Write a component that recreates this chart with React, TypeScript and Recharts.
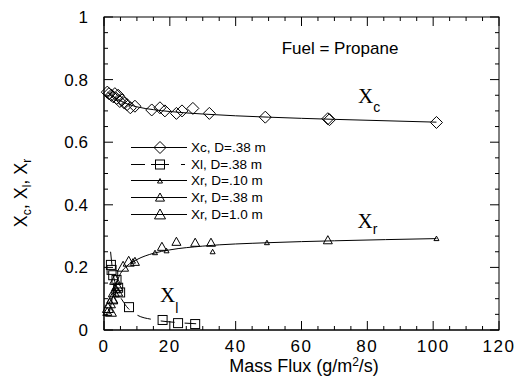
import { ComposedChart, Scatter, Line, XAxis, YAxis } from "recharts";

// Axis ticks (minor every 5 / 0.05, labelled majors)
const X_TICKS = [0, 5, 10, 15, 20, 25, 30, 35, 40, 45, 50, 55, 60, 65, 70, 75, 80, 85, 90, 95, 100, 105, 110, 115, 120];
const X_LABELS = [0, 20, 40, 60, 80, 100, 120];
const Y_TICKS = [0, 0.05, 0.1, 0.15, 0.2, 0.25, 0.3, 0.35, 0.4, 0.45, 0.5, 0.55, 0.6, 0.65, 0.7, 0.75, 0.8, 0.85, 0.9, 0.95, 1];
const Y_LABELS = [0, 0.2, 0.4, 0.6, 0.8, 1];
const X_DOMAIN = [0, 120];
const Y_DOMAIN = [0, 1];

// Xc, D=.38 m
const XC_X = [1.0, 1.5, 2.2, 2.8, 3.3, 3.8, 4.3, 4.8, 5.5, 6.2, 7.0, 8.0, 9.4, 14.5, 17, 18.5, 22, 23.7, 27, 32, 49, 68, 68.5, 101];
const XC_Y = [0.76, 0.755, 0.75, 0.745, 0.755, 0.74, 0.75, 0.73, 0.735, 0.725, 0.72, 0.71, 0.715, 0.703, 0.71, 0.7, 0.692, 0.7, 0.708, 0.692, 0.68, 0.675, 0.672, 0.663];
const XC_FIT_X = [1, 3, 6, 10, 15, 20, 30, 50, 70, 101];
const XC_FIT_Y = [0.76, 0.745, 0.727, 0.713, 0.704, 0.698, 0.69, 0.68, 0.673, 0.664];

// Xl, D=.38 m
const XL_X = [2.1, 2.3, 2.8, 3.8, 4.3, 4.9, 7.6, 17.8, 22.5, 27.7];
const XL_Y = [0.208, 0.192, 0.175, 0.16, 0.135, 0.12, 0.073, 0.032, 0.022, 0.019];
const XL_FIT_X = [2, 2.5, 4, 6, 10, 15, 22, 28];
const XL_FIT_Y = [0.25, 0.2, 0.13, 0.088, 0.048, 0.033, 0.024, 0.02];

// Xr series
const XR10_X = [8.8, 15.5, 19, 33, 49.5, 101];
const XR10_Y = [0.22, 0.247, 0.253, 0.25, 0.279, 0.292];
const XR38_X = [1.0, 2.8, 3.6, 4.3, 9.4, 17.6, 22, 27.7, 32.5, 68];
const XR38_Y = [0.058, 0.095, 0.13, 0.12, 0.218, 0.266, 0.282, 0.279, 0.279, 0.287];
const XR100_X = [1.2, 1.8, 2.1, 2.5, 3.0, 3.4, 4.0, 5.8, 7.5];
const XR100_Y = [0.07, 0.085, 0.058, 0.1, 0.12, 0.16, 0.14, 0.202, 0.218];
const XR_FIT_X = [1.5, 2.5, 3.5, 5, 7, 10, 15, 20, 30, 50, 70, 101];
const XR_FIT_Y = [0.05, 0.1, 0.14, 0.18, 0.205, 0.225, 0.245, 0.256, 0.268, 0.279, 0.285, 0.292];

// in-plot annotations (data coordinates)
const TITLE_AT = { x: 71.7, y: 0.881 };
const LABEL_XC_AT = { x: 77.2, y: 0.724 };
const LABEL_XR_AT = { x: 77, y: 0.327 };
const LABEL_XL_AT = { x: 17, y: 0.09 };

const LEGEND_ITEMS = ["Xc, D=.38 m", "Xl, D=.38 m", "Xr, D=.10 m", "Xr, D=.38 m", "Xr, D=1.0 m"];

const zip = (xs: number[], ys: number[]) => xs.map((x, i) => ({ x, y: ys[i] }));

const FONT = "'Liberation Sans', Arial, Helvetica, sans-serif";
const SERIF = "'Liberation Serif', 'Times New Roman', serif";

// chart geometry
const W = 518;
const H = 385;
const MARGIN = { top: 17, right: 19, bottom: 0, left: 0 };
const X_AXIS_H = 55;
const Y_AXIS_W = 104;
const PLOT = {
  left: MARGIN.left + Y_AXIS_W,
  right: W - MARGIN.right,
  top: MARGIN.top,
  bottom: H - MARGIN.bottom - X_AXIS_H,
};

const Diamond = ({ cx, cy, r = 6 }: any) => (
  <polygon
    points={`${cx},${cy - r} ${cx + r},${cy} ${cx},${cy + r} ${cx - r},${cy}`}
    fill="none"
    stroke="#000"
    strokeWidth={1}
  />
);
const Square = ({ cx, cy, r = 4.5 }: any) => (
  <rect x={cx - r} y={cy - r} width={2 * r} height={2 * r} fill="none" stroke="#000" strokeWidth={1} />
);
const Tri = ({ cx, cy, r = 4.5 }: any) => (
  <polygon
    points={`${cx},${cy - r} ${cx + r},${cy + r * 0.8} ${cx - r},${cy + r * 0.8}`}
    fill="none"
    stroke="#000"
    strokeWidth={1}
  />
);

const isMajor = (v: number, list: number[]) => list.some((m) => Math.abs(m - v) < 1e-6);

const BottomLabel = ({ x, y, payload }: any) =>
  isMajor(payload.value, X_LABELS) ? (
    <text x={x} y={y + 22} textAnchor="middle" fontSize={17} fontFamily={FONT} letterSpacing={1.5} fill="#000">
      {payload.value}
    </text>
  ) : (
    <g />
  );

const LeftLabel = ({ x, y, payload }: any) =>
  isMajor(payload.value, Y_LABELS) ? (
    <text x={x - 16} y={y + 6} textAnchor="end" fontSize={17} fontFamily={FONT} fill="#000">
      {payload.value}
    </text>
  ) : (
    <g />
  );

// box frame with inward ticks on all four sides
const Frame = () => {
  const px = (v: number) => PLOT.left + ((v - X_DOMAIN[0]) / (X_DOMAIN[1] - X_DOMAIN[0])) * (PLOT.right - PLOT.left);
  const py = (v: number) => PLOT.bottom - ((v - Y_DOMAIN[0]) / (Y_DOMAIN[1] - Y_DOMAIN[0])) * (PLOT.bottom - PLOT.top);
  let d = "";
  X_TICKS.forEach((v) => {
    const len = isMajor(v, X_LABELS) ? 9 : 4;
    const x = px(v);
    d += `M${x},${PLOT.bottom}V${PLOT.bottom - len}M${x},${PLOT.top}V${PLOT.top + len}`;
  });
  Y_TICKS.forEach((v) => {
    const len = isMajor(v, Y_LABELS) ? 9 : 4;
    const y = py(v);
    d += `M${PLOT.left},${y}H${PLOT.left + len}M${PLOT.right},${y}H${PLOT.right - len}`;
  });
  return (
    <svg width={W} height={H} style={{ position: "absolute", left: 0, top: 0, pointerEvents: "none" }}>
      <rect
        x={PLOT.left}
        y={PLOT.top}
        width={PLOT.right - PLOT.left}
        height={PLOT.bottom - PLOT.top}
        fill="none"
        stroke="#000"
        strokeWidth={1}
      />
      <path d={d} stroke="#000" strokeWidth={1} fill="none" />
    </svg>
  );
};

const markerFor = (i: number) => {
  if (i === 0) return <Diamond cx={29} cy={8.5} r={6} />;
  if (i === 1) return <Square cx={29} cy={8.5} r={4.5} />;
  if (i === 2) return <Tri cx={29} cy={9} r={2.5} />;
  if (i === 3) return <Tri cx={29} cy={8.5} r={4.5} />;
  return <Tri cx={29} cy={8.5} r={5.5} />;
};

const LegendBox = () => (
  <div style={{ position: "absolute", left: 131, top: 139, fontFamily: FONT, fontSize: 13.5, color: "#000" }}>
    {LEGEND_ITEMS.map((name, i) => (
      <div key={name} style={{ display: "flex", alignItems: "center", height: 16.7 }}>
        <svg width={60} height={17}>
          {i === 1 ? (
            <g stroke="#000" strokeWidth={1}>
              <line x1={0} x2={14} y1={8.5} y2={8.5} />
              <line x1={20} x2={38} y1={8.5} y2={8.5} />
              <line x1={50} x2={54} y1={8.5} y2={8.5} />
            </g>
          ) : (
            <line x1={0} x2={56} y1={8.5} y2={8.5} stroke="#000" strokeWidth={1} />
          )}
          {markerFor(i)}
        </svg>
        <span>{name}</span>
      </div>
    ))}
  </div>
);

const annot = (main: string, sub: string, subDy: number) => (p: any) => (
  <text x={p.cx} y={p.cy} fill="#000">
    <tspan fontFamily={SERIF} fontSize={21}>{main}</tspan>
    <tspan fontFamily={FONT} fontSize={14} dy={subDy}>{sub}</tspan>
  </text>
);

const subStyle = { fontSize: 12, verticalAlign: "-4px" } as const;

export default function App() {
  return (
    <div style={{ position: "absolute", left: 0, top: 0, width: W, height: H }}>
      <ComposedChart width={W} height={H} margin={MARGIN}>
        <XAxis
          dataKey="x"
          type="number"
          domain={X_DOMAIN}
          ticks={X_TICKS}
          interval={0}
          height={X_AXIS_H}
          tickSize={0}
          tickMargin={0}
          tickLine={false}
          stroke="#000"
          tick={<BottomLabel />}
        />
        <YAxis
          dataKey="y"
          type="number"
          domain={Y_DOMAIN}
          ticks={Y_TICKS}
          interval={0}
          width={Y_AXIS_W}
          tickSize={0}
          tickMargin={0}
          tickLine={false}
          stroke="#000"
          tick={<LeftLabel />}
        />

        <Line data={zip(XC_FIT_X, XC_FIT_Y)} dataKey="y" type="monotone" stroke="#000" strokeWidth={1} dot={false} isAnimationActive={false} />
        <Line data={zip(XL_FIT_X, XL_FIT_Y)} dataKey="y" type="monotone" stroke="#000" strokeWidth={1} strokeDasharray="14 10" dot={false} isAnimationActive={false} />
        <Line data={zip(XR_FIT_X, XR_FIT_Y)} dataKey="y" type="monotone" stroke="#000" strokeWidth={1} dot={false} isAnimationActive={false} />

        <Scatter data={zip(XC_X, XC_Y)} isAnimationActive={false} shape={(p: any) => <Diamond cx={p.cx} cy={p.cy} r={6} />} />
        <Scatter data={zip(XL_X, XL_Y)} isAnimationActive={false} shape={(p: any) => <Square cx={p.cx} cy={p.cy} r={4.5} />} />
        <Scatter data={zip(XR10_X, XR10_Y)} isAnimationActive={false} shape={(p: any) => <Tri cx={p.cx} cy={p.cy} r={2.5} />} />
        <Scatter data={zip(XR38_X, XR38_Y)} isAnimationActive={false} shape={(p: any) => <Tri cx={p.cx} cy={p.cy} r={4.5} />} />
        <Scatter data={zip(XR100_X, XR100_Y)} isAnimationActive={false} shape={(p: any) => <Tri cx={p.cx} cy={p.cy} r={5.5} />} />

        <Scatter
          data={[TITLE_AT]}
          isAnimationActive={false}
          shape={(p: any) => (
            <text x={p.cx} y={p.cy} textAnchor="middle" fontFamily={FONT} fontSize={17} fill="#000">
              Fuel = Propane
            </text>
          )}
        />
        <Scatter data={[LABEL_XC_AT]} isAnimationActive={false} shape={annot("X", "c", 9)} />
        <Scatter data={[LABEL_XR_AT]} isAnimationActive={false} shape={annot("X", "r", 6)} />
        <Scatter data={[LABEL_XL_AT]} isAnimationActive={false} shape={annot("X", "l", 11)} />
      </ComposedChart>

      <Frame />
      <LegendBox />

      <div
        style={{
          position: "absolute",
          left: 204,
          top: 353,
          width: 200,
          textAlign: "center",
          fontFamily: FONT,
          fontSize: 18,
          lineHeight: "18px",
          color: "#000",
          whiteSpace: "nowrap",
        }}
      >
        Mass Flux (g/m<sup style={{ fontSize: 12, verticalAlign: "6px" }}>2</sup>/s)
      </div>

      <div
        style={{
          position: "absolute",
          left: 24,
          top: 193,
          transform: "translate(-50%, -50%) rotate(-90deg)",
          fontFamily: FONT,
          fontSize: 18,
          lineHeight: "18px",
          color: "#000",
          whiteSpace: "nowrap",
        }}
      >
        X<span style={subStyle}>c</span>, X<span style={subStyle}>l</span>, X<span style={subStyle}>r</span>
      </div>
    </div>
  );
}
